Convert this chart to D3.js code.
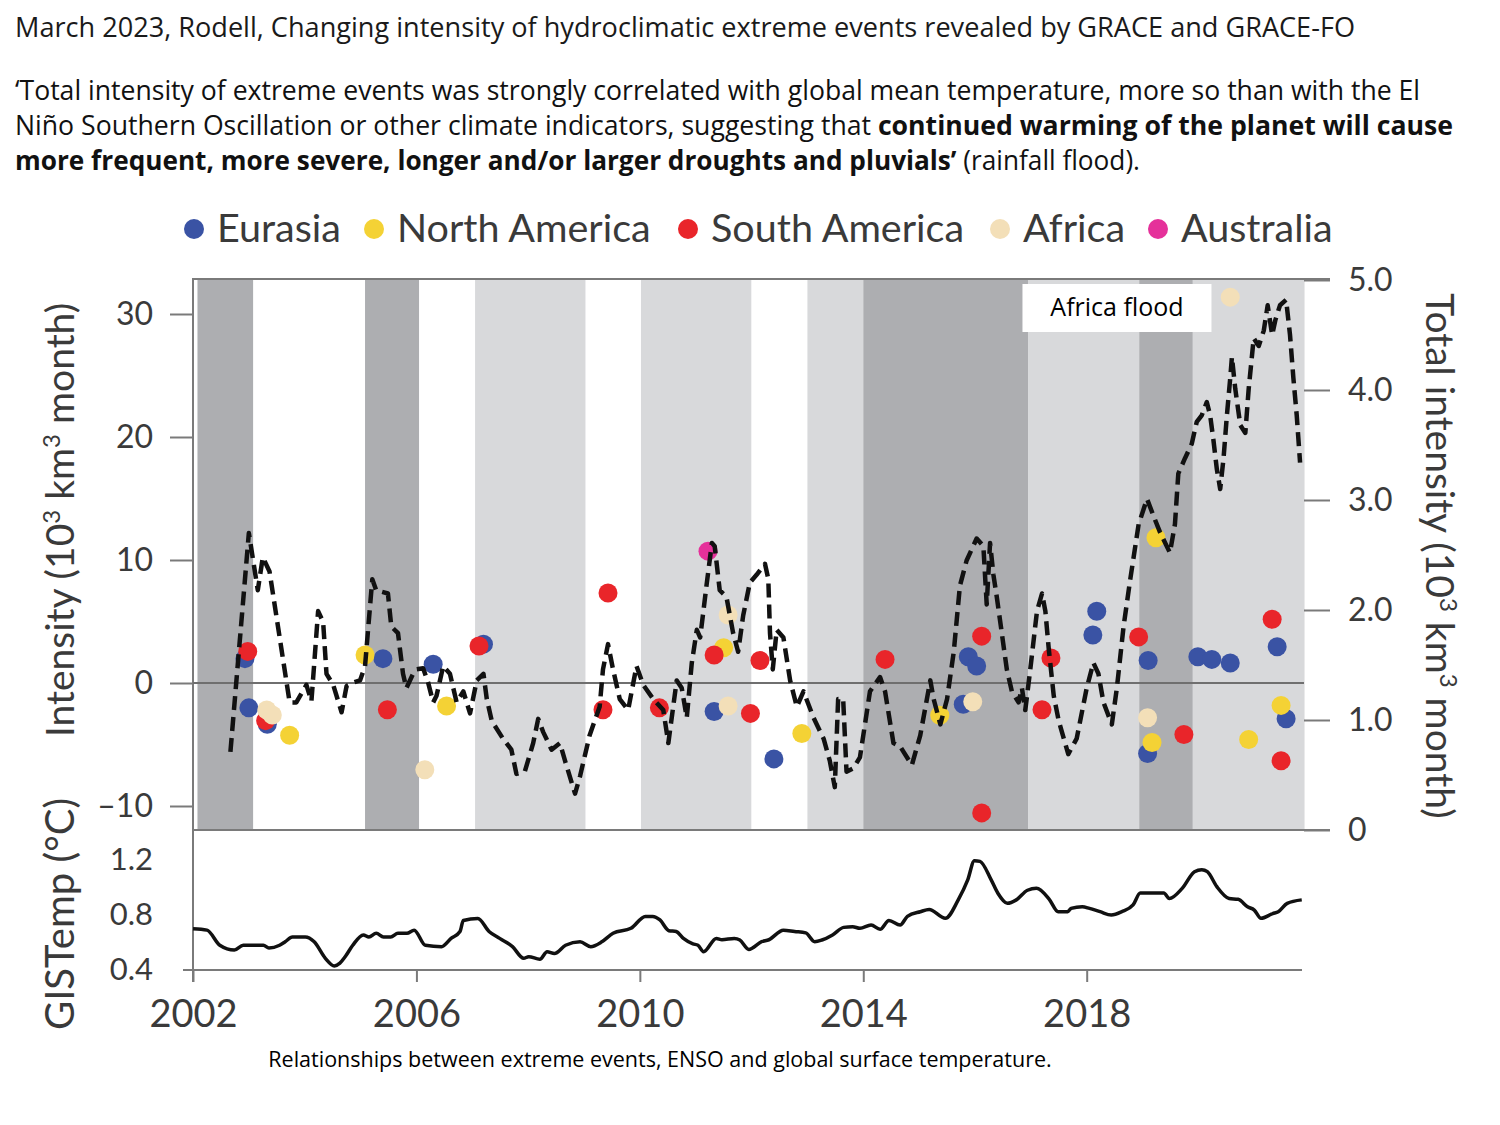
<!DOCTYPE html>
<html>
<head>
<meta charset="utf-8">
<script src="https://cdn.jsdelivr.net/npm/d3@7"></script>
<style>
  body { margin: 0; background: #fff; }
  svg { display: block; }
</style>
</head>
<body>
<div id="container"></div>
<script>
/* DATA */
// background phases (decimal years), shade per phase
const bandStarts = [2002.08, 2003.08, 2005.08, 2006.05, 2007.05, 2009.03, 2010.02, 2012.0, 2013.0, 2014.0, 2016.95, 2018.94, 2019.9];
const bandEnds   = [2003.08, 2005.08, 2006.05, 2007.05, 2009.03, 2010.02, 2012.0, 2013.0, 2014.0, 2016.95, 2018.94, 2019.9, 2021.9];
const bandShades = ["dark", "white", "dark", "white", "light", "white", "light", "white", "light", "dark", "light", "dark", "light"];

// total intensity (10^3 km^3 month), right axis
const totalIntensity = [
  [2002.67,0.71],[2003.0,2.70],[2003.16,2.18],[2003.25,2.48],[2003.37,2.35],[2003.73,1.16],[2003.85,1.16],
  [2004.03,1.32],[2004.12,1.17],[2004.24,1.99],[2004.33,1.89],[2004.39,1.42],[2004.51,1.32],[2004.66,1.07],
  [2004.75,1.31],[2004.87,1.34],[2004.99,1.36],[2005.08,1.49],[2005.21,2.28],[2005.28,2.18],[2005.49,2.15],
  [2005.55,1.85],[2005.67,1.79],[2005.76,1.42],[2005.82,1.29],[2005.94,1.42],[2006.0,1.46],[2006.12,1.47],
  [2006.21,1.34],[2006.3,1.16],[2006.36,1.22],[2006.48,1.49],[2006.6,1.42],[2006.72,1.16],[2006.84,1.26],
  [2006.96,1.06],[2007.08,1.36],[2007.2,1.42],[2007.26,1.19],[2007.35,0.99],[2007.55,0.83],[2007.7,0.73],
  [2007.79,0.51],[2007.94,0.53],[2008.09,0.79],[2008.18,1.01],[2008.27,0.89],[2008.42,0.73],[2008.57,0.79],
  [2008.66,0.63],[2008.84,0.33],[2008.93,0.49],[2009.1,0.86],[2009.28,1.12],[2009.34,1.46],[2009.43,1.69],
  [2009.52,1.46],[2009.64,1.19],[2009.79,1.09],[2009.94,1.49],[2010.06,1.32],[2010.24,1.19],[2010.42,1.09],
  [2010.51,0.79],[2010.66,1.36],[2010.75,1.29],[2010.84,1.02],[2010.93,1.52],[2011.02,1.82],[2011.08,1.75],
  [2011.2,2.25],[2011.29,2.61],[2011.34,2.58],[2011.43,2.18],[2011.55,2.12],[2011.67,1.79],[2011.76,1.62],
  [2011.85,1.95],[2011.97,2.25],[2012.09,2.32],[2012.24,2.42],[2012.3,2.28],[2012.33,1.79],[2012.38,1.46],
  [2012.45,1.82],[2012.57,1.75],[2012.69,1.36],[2012.81,1.12],[2012.93,1.26],[2013.11,1.02],[2013.29,0.83],
  [2013.4,0.63],[2013.49,0.39],[2013.55,1.19],[2013.64,1.19],[2013.7,0.53],[2013.82,0.56],[2013.94,0.66],
  [2014.03,0.96],[2014.12,1.26],[2014.3,1.39],[2014.39,1.26],[2014.54,0.79],[2014.66,0.76],[2014.87,0.59],
  [2015.02,0.86],[2015.2,1.36],[2015.26,1.19],[2015.38,0.96],[2015.5,1.19],[2015.62,1.62],[2015.73,2.22],
  [2015.85,2.45],[2016.03,2.65],[2016.15,2.58],[2016.21,2.05],[2016.27,2.61],[2016.33,2.32],[2016.39,2.12],
  [2016.48,1.79],[2016.57,1.46],[2016.66,1.26],[2016.78,1.16],[2016.84,1.29],[2016.9,1.09],[2016.99,1.46],
  [2017.11,1.99],[2017.2,2.15],[2017.26,1.99],[2017.32,1.65],[2017.41,1.22],[2017.5,0.99],[2017.67,0.69],
  [2017.82,0.83],[2018.0,1.29],[2018.12,1.52],[2018.21,1.42],[2018.3,1.16],[2018.45,0.96],[2018.54,1.29],
  [2018.66,1.85],[2018.78,2.28],[2018.93,2.78],[2019.08,3.01],[2019.2,2.85],[2019.31,2.71],[2019.49,2.52],
  [2019.58,2.78],[2019.64,3.24],[2019.76,3.38],[2019.88,3.51],[2019.97,3.71],[2020.06,3.77],[2020.15,3.89],
  [2020.21,3.77],[2020.27,3.54],[2020.33,3.28],[2020.39,3.10],[2020.45,3.38],[2020.51,3.77],[2020.57,4.11],
  [2020.6,4.30],[2020.66,4.01],[2020.75,3.68],[2020.84,3.61],[2020.9,4.01],[2020.99,4.47],[2021.08,4.40],
  [2021.17,4.54],[2021.24,4.77],[2021.32,4.50],[2021.38,4.64],[2021.46,4.77],[2021.57,4.82],[2021.64,4.50],
  [2021.7,4.11],[2021.76,3.77],[2021.82,3.34]
];

// GISTemp (°C), bottom panel
const gisTemp = [
  [2002.0,0.70],[2002.25,0.69],[2002.48,0.58],[2002.74,0.545],[2002.9,0.58],[2003.26,0.58],[2003.36,0.56],
  [2003.55,0.58],[2003.65,0.605],[2003.78,0.64],[2004.01,0.64],[2004.17,0.605],[2004.37,0.485],[2004.53,0.43],
  [2004.63,0.45],[2004.73,0.50],[2004.86,0.58],[2005.05,0.655],[2005.15,0.64],[2005.28,0.667],[2005.41,0.64],
  [2005.54,0.64],[2005.67,0.667],[2005.83,0.667],[2005.96,0.69],[2006.16,0.58],[2006.45,0.57],[2006.62,0.63],
  [2006.78,0.68],[2006.84,0.76],[2007.1,0.775],[2007.3,0.68],[2007.49,0.63],[2007.72,0.57],[2007.92,0.485],
  [2008.01,0.497],[2008.21,0.478],[2008.34,0.533],[2008.47,0.52],[2008.67,0.58],[2008.93,0.605],[2009.12,0.57],
  [2009.32,0.605],[2009.52,0.667],[2009.84,0.703],[2010.1,0.79],[2010.23,0.79],[2010.36,0.764],[2010.52,0.686],
  [2010.65,0.68],[2010.78,0.63],[2010.95,0.59],[2011.04,0.58],[2011.14,0.533],[2011.37,0.63],[2011.47,0.62],
  [2011.69,0.63],[2011.79,0.618],[2011.95,0.55],[2012.18,0.606],[2012.31,0.62],[2012.57,0.69],[2012.77,0.68],
  [2012.97,0.67],[2013.13,0.606],[2013.26,0.618],[2013.45,0.655],[2013.65,0.71],[2013.81,0.715],[2013.94,0.703],
  [2014.14,0.727],[2014.3,0.696],[2014.46,0.76],[2014.66,0.727],[2014.79,0.79],[2015.02,0.824],[2015.18,0.84],
  [2015.47,0.776],[2015.7,0.91],[2015.87,1.055],[2015.99,1.195],[2016.09,1.19],[2016.29,1.055],[2016.41,0.958],
  [2016.58,0.885],[2016.74,0.91],[2016.94,0.98],[2017.1,0.994],[2017.33,0.914],[2017.49,0.824],[2017.66,0.824],
  [2017.72,0.848],[2017.92,0.86],[2018.05,0.848],[2018.24,0.824],[2018.44,0.80],[2018.63,0.824],[2018.83,0.873],
  [2018.96,0.96],[2019.38,0.96],[2019.48,0.92],[2019.71,0.994],[2019.93,1.115],[2020.06,1.13],[2020.16,1.115],
  [2020.33,1.006],[2020.55,0.92],[2020.71,0.914],[2020.88,0.86],[2021.0,0.836],[2021.12,0.776],[2021.33,0.81],
  [2021.43,0.824],[2021.59,0.885],[2021.85,0.91]
];

// extreme events: [year, intensity (10^3 km^3 month)]
const eurasiaEvents = [
  [2002.93,1.98],[2003.0,-2.02],[2003.33,-3.36],[2005.4,1.98],[2006.3,1.53],[2007.2,3.16],[2011.33,-2.32],
  [2012.4,-6.17],[2015.79,-1.73],[2015.88,2.13],[2016.03,1.38],[2018.11,3.9],[2018.18,5.83],[2019.09,-5.73],
  [2019.1,1.83],[2019.99,2.13],[2020.24,1.92],[2020.57,1.62],[2021.41,2.95],[2021.57,-2.91]
];
const northAmericaEvents = [
  [2003.73,-4.25],[2005.08,2.27],[2006.54,-1.87],[2011.5,2.87],[2012.9,-4.1],[2015.37,-2.62],
  [2019.17,-4.84],[2019.24,11.81],[2020.9,-4.6],[2021.48,-1.82]
];
const southAmericaEvents = [
  [2002.98,2.57],[2003.3,-3.06],[2005.48,-2.17],[2007.12,3.01],[2009.34,-2.17],[2009.43,7.31],[2010.35,-2.02],
  [2011.33,2.27],[2011.98,-2.47],[2012.15,1.83],[2014.39,1.92],[2016.12,3.81],[2016.12,-10.56],[2017.2,-2.17],
  [2017.36,2.04],[2018.93,3.75],[2019.74,-4.19],[2021.32,5.18],[2021.48,-6.32]
];
const africaEvents = [
  [2003.32,-2.2],[2003.42,-2.6],[2006.15,-7.06],[2011.58,5.53],[2011.58,-1.87],[2015.96,-1.52],
  [2019.09,-2.82],[2020.57,31.37]
];
const australiaEvents = [[2011.22,10.72]];

const regions = ["Eurasia", "North America", "South America", "Africa", "Australia"];
const regionColors = ["#3a53a4", "#f4d235", "#e9252a", "#f3dfb8", "#e5319a"];

const yearTicks = [2002, 2006, 2010, 2014, 2018];
const intensityTicks = [-10, 0, 10, 20, 30];
const totalTicks = [0, 1, 2, 3, 4, 5];
const tempTicks = [0.4, 0.8, 1.2];

/* LAYOUT */
const width = 1500, height = 1125;
const plotLeft = 193, plotRight = 1304;
const topY = 280, midY = 830, bottomY = 970;
const axisColor = "#7a7a7a";
const labelColor = "#3a3a3a";
const chartFont = "Lato, 'Noto Sans', sans-serif";
const textFont = "'Open Sans', 'Noto Sans', sans-serif";

const svg = d3.select("#container")
  .append("svg")
  .attr("width", width)
  .attr("height", height);

/* SCALES */
const xScale = d3.scaleLinear().domain([2002, 2018]).range([plotLeft, 1086.7]);
const yLeft = d3.scaleLinear().domain([-10, 30]).range([806, 314]);
const yRight = d3.scaleLinear().domain([0, 5]).range([midY, topY]);
const yTemp = d3.scaleLinear().domain([0.4, 1.2]).range([bottomY, 860]);
const colorScale = d3.scaleOrdinal().domain(regions).range(regionColors);
const shadeColor = { dark: "#adaeb1", light: "#d8d9db", white: "#ffffff" };

// HEADER TEXT ----------------------------------------------
svg.append("text")
  .attr("x", 15).attr("y", 37)
  .style("font-family", textFont).style("font-size", "27px").attr("fill", "#1a1a1a")
  .attr("textLength", 1340).attr("lengthAdjust", "spacingAndGlyphs")
  .text("March 2023, Rodell, Changing intensity of hydroclimatic extreme events revealed by GRACE and GRACE-FO");

const para = [
  [["‘Total intensity of extreme events was strongly correlated with global mean temperature, more so than with the El", false]],
  [["Niño Southern Oscillation or other climate indicators, suggesting that ", false], ["continued warming of the planet will cause", true]],
  [["more frequent, more severe, longer and/or larger droughts and pluvials’", true], [" (rainfall flood).", false]]
];
const paraWidths = [1405, 1438, 1125];
para.forEach((line, i) => {
  const t = svg.append("text")
    .attr("x", 15).attr("y", 100 + i * 35)
    .style("font-family", textFont).style("font-size", "26.5px").attr("fill", "#111")
    .attr("textLength", paraWidths[i]).attr("lengthAdjust", "spacingAndGlyphs");
  line.forEach(([s, bold]) => {
    t.append("tspan").style("font-weight", bold ? 700 : 400).text(s);
  });
});

// LEGEND ----------------------------------------------------
const legendX = [194, 374, 688, 1000, 1158];
const legend = svg.selectAll(".legend-item")
  .data(regions)
  .join("g")
  .attr("class", "legend-item")
  .attr("transform", (_, i) => `translate(${legendX[i]},229)`);
legend.append("circle").attr("r", 10).attr("fill", d => colorScale(d));
legend.append("text")
  .attr("x", 23).attr("y", 13)
  .style("font-family", chartFont).style("font-size", "39.5px").attr("fill", labelColor)
  .text(d => d);

// BACKGROUND BANDS ------------------------------------------
svg.selectAll(".band")
  .data(bandStarts.map((s, i) => ({ start: s, end: bandEnds[i], shade: bandShades[i] })))
  .join("rect")
  .attr("class", "band")
  .attr("x", d => xScale(d.start))
  .attr("width", d => xScale(d.end) - xScale(d.start))
  .attr("y", topY)
  .attr("height", midY - topY)
  .attr("fill", d => shadeColor[d.shade]);

// FRAME LINES -----------------------------------------------
svg.append("line").attr("x1", plotLeft).attr("x2", 1330).attr("y1", topY - 1).attr("y2", topY - 1)
  .attr("stroke", axisColor).attr("stroke-width", 2);
svg.append("line").attr("x1", plotLeft).attr("x2", 1330).attr("y1", midY).attr("y2", midY)
  .attr("stroke", axisColor).attr("stroke-width", 2);
svg.append("line").attr("x1", plotLeft).attr("x2", plotLeft).attr("y1", topY - 2).attr("y2", bottomY + 12)
  .attr("stroke", axisColor).attr("stroke-width", 2);
svg.append("line").attr("x1", plotLeft).attr("x2", plotRight).attr("y1", yLeft(0)).attr("y2", yLeft(0))
  .attr("stroke", "#6f6f6f").attr("stroke-width", 2);
svg.append("line").attr("x1", 183).attr("x2", plotRight - 2).attr("y1", bottomY).attr("y2", bottomY)
  .attr("stroke", axisColor).attr("stroke-width", 2);

// AXES ------------------------------------------------------
function styleAxis(g, size) {
  g.select(".domain").remove();
  g.selectAll(".tick line").attr("stroke", axisColor).attr("stroke-width", 2);
  g.selectAll(".tick text")
    .attr("fill", labelColor)
    .style("font-family", chartFont)
    .style("font-size", size);
}

svg.append("g")
  .attr("transform", `translate(${plotLeft},0)`)
  .call(d3.axisLeft(yLeft).tickValues(intensityTicks).tickSize(23).tickPadding(17)
    .tickFormat(d => d < 0 ? "\u2013" + Math.abs(d) : d))
  .call(g => styleAxis(g, "32px"));

svg.append("g")
  .attr("transform", `translate(${plotRight},0)`)
  .call(d3.axisRight(yRight).tickValues(totalTicks).tickSize(26).tickPadding(18)
    .tickFormat(d => d === 0 ? "0" : d3.format(".1f")(d)))
  .call(g => styleAxis(g, "32px"));

svg.append("g")
  .attr("transform", `translate(${plotLeft},0)`)
  .call(d3.axisLeft(yTemp).tickValues(tempTicks).tickSize(0).tickPadding(40)
    .tickFormat(d3.format(".1f")))
  .call(g => styleAxis(g, "31px"));

svg.append("g")
  .attr("transform", `translate(0,${bottomY})`)
  .call(d3.axisBottom(xScale).tickValues(yearTicks).tickSize(12).tickPadding(18)
    .tickFormat(d3.format("d")))
  .call(g => styleAxis(g, "38px"));

// AXIS TITLES -----------------------------------------------
function supTitle(g, parts) {
  parts.forEach(([s, sup]) => {
    const ts = g.append("tspan").text(s);
    if (sup) ts.attr("baseline-shift", "super").style("font-size", "24px");
  });
}
const leftTitle = svg.append("text")
  .attr("transform", "translate(74,520) rotate(-90)")
  .attr("text-anchor", "middle")
  .style("font-family", chartFont).style("font-size", "39px").attr("fill", labelColor);
supTitle(leftTitle, [["Intensity (10"], ["3", true], [" km"], ["3", true], [" month)"]]);

svg.append("text")
  .attr("transform", "translate(74,914) rotate(-90)")
  .attr("text-anchor", "middle")
  .style("font-family", chartFont).style("font-size", "40px").attr("fill", labelColor)
  .text("GISTemp (°C)");

const rightTitle = svg.append("text")
  .attr("transform", "translate(1426,556) rotate(90)")
  .attr("text-anchor", "middle")
  .style("font-family", chartFont).style("font-size", "39px").attr("fill", labelColor);
supTitle(rightTitle, [["Total intensity (10"], ["3", true], [" km"], ["3", true], [" month)"]]);

// EVENT DOTS ------------------------------------------------
const events = [
  ...eurasiaEvents.map(d => ({ region: "Eurasia", year: d[0], value: d[1] })),
  ...northAmericaEvents.map(d => ({ region: "North America", year: d[0], value: d[1] })),
  ...southAmericaEvents.map(d => ({ region: "South America", year: d[0], value: d[1] })),
  ...africaEvents.map(d => ({ region: "Africa", year: d[0], value: d[1] })),
  ...australiaEvents.map(d => ({ region: "Australia", year: d[0], value: d[1] }))
];
svg.selectAll("circle.dot")
  .data(events)
  .join("circle")
  .attr("class", "dot")
  .attr("cx", d => xScale(d.year))
  .attr("cy", d => yLeft(d.value))
  .attr("r", 9.5)
  .attr("fill", d => colorScale(d.region));

// TOTAL INTENSITY (dashed) ----------------------------------
svg.append("path")
  .datum(totalIntensity)
  .attr("fill", "none")
  .attr("stroke", "#111")
  .attr("stroke-width", 4.5)
  .attr("stroke-dasharray", "14,7")
  .attr("stroke-linejoin", "round")
  .attr("d", d3.line().x(d => xScale(d[0])).y(d => yRight(d[1])));

// GISTEMP LINE ----------------------------------------------
svg.append("path")
  .datum(gisTemp)
  .attr("fill", "none")
  .attr("stroke", "#111")
  .attr("stroke-width", 3.5)
  .attr("stroke-linejoin", "round")
  .attr("d", d3.line().x(d => xScale(d[0])).y(d => yTemp(d[1])).curve(d3.curveMonotoneX));

// ANNOTATION ------------------------------------------------
const note = svg.append("g").attr("transform", `translate(${xScale(2016.85)},284)`);
note.append("rect").attr("width", 189).attr("height", 48).attr("fill", "#fff");
note.append("text")
  .attr("x", 94.5).attr("y", 32)
  .attr("text-anchor", "middle")
  .style("font-family", textFont).style("font-size", "25px").attr("fill", "#000")
  .text("Africa flood");

// CAPTION ---------------------------------------------------
svg.append("text")
  .attr("x", 660).attr("y", 1067)
  .attr("text-anchor", "middle")
  .style("font-family", textFont).style("font-size", "21.5px").attr("fill", "#000")
  .text("Relationships between extreme events, ENSO and global surface temperature.");
</script>
</body>
</html>
